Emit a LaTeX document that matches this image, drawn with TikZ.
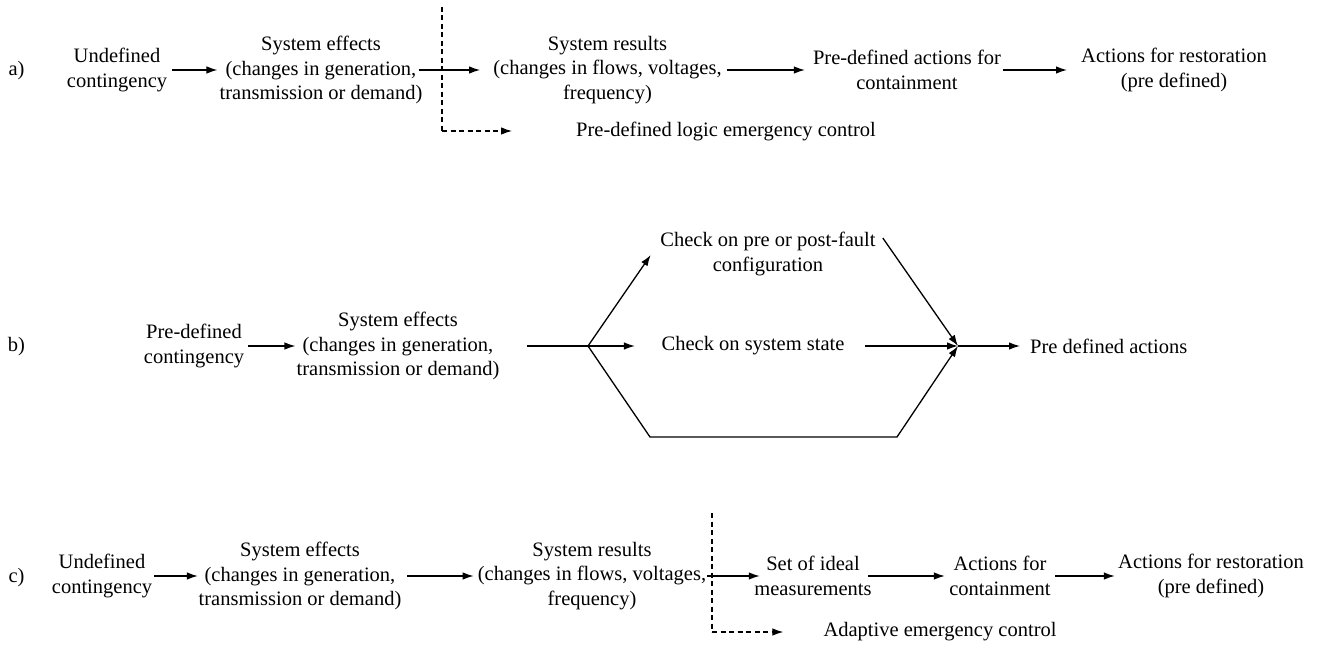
\documentclass[tikz,border=0pt]{standalone}
\usepackage{fontspec}
\setmainfont{Liberation Serif}
\usetikzlibrary{arrows.meta}
\begin{document}
\begin{tikzpicture}[x=1pt,y=-1pt,
  lbl/.style={inner sep=0pt, align=center, font=\fontsize{20.5}{24.5}\selectfont},
  arr/.style={line width=1.3pt, -{Latex[length=11pt,width=7.5pt]}},
  ln/.style={line width=1.3pt},
  dsh/.style={line width=1.1pt, dash pattern=on 5pt off 3.5pt},
  dsharr/.style={dsh, -{Latex[length=11pt,width=7.5pt]}}]
\useasboundingbox (0,0) rectangle (1328,650);

% ---------------- row a
\node[lbl] (la) at (16.5,71) {a)};
\node[lbl] (A1) at (117,70) {Undefined\\contingency};
\node[lbl] (A2) at (321,70) {System effects\\(changes in generation,\\transmission or demand)};
\node[lbl] (A3) at (607.5,70) {System results\\(changes in flows, voltages,\\frequency)};
\node[lbl] (A4) at (907,70) {Pre-defined actions for\\containment};
\node[lbl] (A5) at (1174,70) {Actions for restoration\\(pre defined)};
\node[lbl] (A6) at (726,131) {Pre-defined logic emergency control};
\coordinate (at) at (442,7);
\coordinate (ac) at (442,131);

\draw[arr] ([xshift=5pt]A1.east) -- ([xshift=-2pt]A2.west);
\draw[arr] ([xshift=-4pt]A2.east) -- ([xshift=-13pt]A3.west);
\draw[arr] ([xshift=5pt]A3.east) -- ([xshift=-8pt]A4.west);
\draw[arr] ([xshift=2pt]A4.east) -- ([xshift=-14pt]A5.west);
\draw[dsh] (at) -- (ac);
\draw[dsharr] (ac) -- ([xshift=-64pt]A6.west);

% ---------------- row b
\node[lbl] (lb) at (16.5,347) {b)};
\node[lbl] (B1) at (194,346) {Pre-defined\\contingency};
\node[lbl] (B2) at (398,346) {System effects\\(changes in generation,\\transmission or demand)};
\node[lbl] (C1) at (768,254) {Check on pre or post-fault\\configuration};
\node[lbl] (C2) at (753,346) {Check on system state};
\node[lbl, anchor=west] (B3) at (1030,346) {Pre defined actions};
\coordinate (s) at (588,346);
\coordinate (j) at (958,346);
\coordinate (bl) at (650,437);
\coordinate (br) at (897,437);

\draw[arr] ([xshift=4pt]B1.east) -- ([xshift=-1pt]B2.west);
\draw[ln] ([xshift=27.5pt]B2.east) -- (s);
\draw[arr] (s) -- ([xshift=-9.5pt,yshift=-1pt]C1.west);
\draw[arr] (s) -- ([xshift=-26.5pt]C2.west);
\draw[arr] (s) -- (bl) -- (br) -- (j);
\draw[arr] ([xshift=20.5pt]C2.east) -- (j);
\draw[arr] ([xshift=7pt,yshift=16pt]C1.east) -- (j);
\draw[arr] (j) -- ([xshift=-10pt]B3.west);

% ---------------- row c
\node[lbl] (lc) at (16.5,578) {c)};
\node[lbl] (D1) at (102,576) {Undefined\\contingency};
\node[lbl] (D2) at (300,576) {System effects\\(changes in generation,\\transmission or demand)};
\node[lbl] (D3) at (592,576) {System results\\(changes in flows, voltages,\\frequency)};
\node[lbl] (D4) at (813,576) {Set of ideal\\measurements};
\node[lbl] (D5) at (1000,576) {Actions for\\containment};
\node[lbl] (D6) at (1211,576) {Actions for restoration\\(pre defined)};
\node[lbl] (D7) at (940,632) {Adaptive emergency control};
\coordinate (ct) at (712,513);
\coordinate (cc) at (712,632);

\draw[arr] ([xshift=2pt]D1.east) -- ([xshift=-0.6pt]D2.west);
\draw[arr] ([xshift=5.6pt]D2.east) -- ([xshift=-4pt]D3.west);
\draw[arr] ([xshift=1pt]D3.east) -- ([xshift=5.6pt]D4.west);
\draw[arr] ([xshift=-3.6pt]D4.east) -- ([xshift=-4.3pt]D5.west);
\draw[arr] ([xshift=4.3pt]D5.east) -- ([xshift=-3.2pt]D6.west);
\draw[dsh] (ct) -- (cc);
\draw[dsharr] (cc) -- ([xshift=-40pt]D7.west);
\end{tikzpicture}
\end{document}
